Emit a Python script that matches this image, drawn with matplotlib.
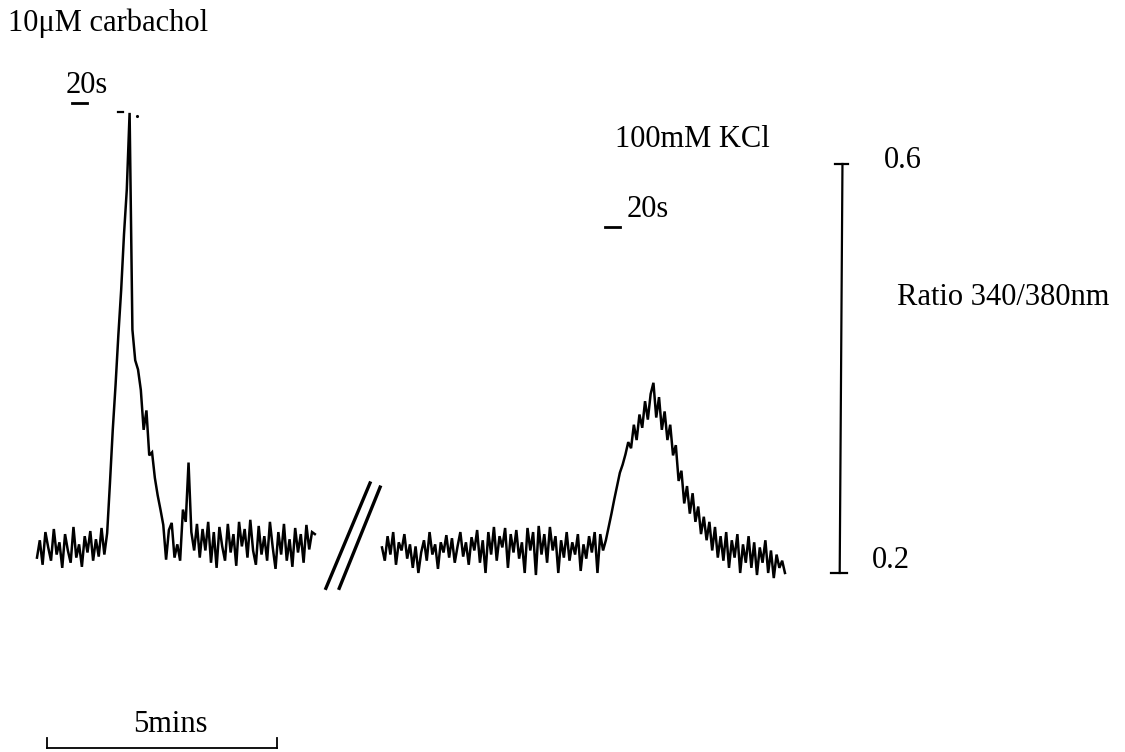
import numpy as np
import matplotlib
matplotlib.use("Agg")
import matplotlib.pyplot as plt

plt.rcParams['font.family'] = ['Liberation Serif', 'DejaVu Serif']

# ---------------- data (time in minutes, fura-2 ratio 340/380) ----------------
# Trace 1: response to 10 uM carbachol
carb_t_start, carb_t_end = 0.0, 6.04
carb_ratio = [
    # baseline
    0.215, 0.232, 0.208, 0.240, 0.225, 0.212, 0.243, 0.218, 0.230, 0.205, 0.238, 0.222,
    0.210, 0.245, 0.215, 0.228, 0.206, 0.236, 0.220, 0.241, 0.212, 0.233, 0.216, 0.244,
    # rise
    0.218, 0.239, 0.288, 0.340, 0.384, 0.433, 0.477, 0.531, 0.575, 0.650,
    # decay
    0.438, 0.408, 0.399, 0.379, 0.340, 0.359, 0.315, 0.318, 0.293, 0.276, 0.262, 0.247,
    0.213, 0.242,
    # baseline after
    0.249, 0.215, 0.228, 0.212, 0.262, 0.250, 0.308, 0.240, 0.222, 0.248, 0.215, 0.243,
    0.222, 0.250, 0.210, 0.240, 0.205, 0.245, 0.226, 0.212, 0.248, 0.220, 0.238, 0.207,
    0.250, 0.226, 0.243, 0.215, 0.252, 0.222, 0.208, 0.246, 0.218, 0.236, 0.212, 0.250,
    0.225, 0.204, 0.240, 0.218, 0.248, 0.212, 0.233, 0.206, 0.244, 0.220, 0.238, 0.210,
    0.247, 0.223, 0.240, 0.238,
]

# Trace 2: response to 100 mM KCl (after a time break)
kcl_t_start, kcl_t_end = 7.50, 16.26
kcl_ratio = [
    # baseline
    0.225, 0.212, 0.236, 0.218, 0.240, 0.208, 0.230, 0.222, 0.238, 0.214, 0.228, 0.205,
    0.226, 0.200, 0.220, 0.232, 0.212, 0.240, 0.218, 0.228, 0.204, 0.230, 0.220, 0.237,
    0.215, 0.234, 0.210, 0.226, 0.240, 0.216, 0.230, 0.208, 0.235, 0.222, 0.242, 0.210,
    0.232, 0.200, 0.240, 0.218, 0.245, 0.212, 0.236, 0.225, 0.244, 0.205, 0.238, 0.220,
    0.242, 0.214, 0.230, 0.200, 0.244, 0.222, 0.240, 0.198, 0.246, 0.218, 0.238, 0.210,
    0.245, 0.222, 0.236, 0.200, 0.232, 0.215, 0.240, 0.212, 0.230, 0.218, 0.238, 0.202,
    0.228, 0.214, 0.236, 0.220, 0.240, 0.200, 0.238, 0.222,
    # rise
    0.232, 0.245, 0.258, 0.272, 0.285, 0.298, 0.306, 0.316, 0.328, 0.322,
    # peak
    0.345, 0.330, 0.355, 0.342, 0.368, 0.350, 0.375, 0.386,
    # decay
    0.352, 0.372, 0.340, 0.358, 0.330, 0.345, 0.315, 0.325, 0.290, 0.300, 0.268,
    0.285, 0.258, 0.278, 0.250, 0.265, 0.238, 0.255, 0.232, 0.250, 0.222, 0.245, 0.215,
    0.236,
    # late baseline
    0.212, 0.240, 0.205, 0.232, 0.215, 0.238, 0.200, 0.228, 0.210, 0.236, 0.205, 0.230,
    0.198, 0.225, 0.210, 0.232, 0.200, 0.222, 0.195, 0.218, 0.205, 0.212, 0.200,
]

# application bars (20 s = 1/3 min)
carb_bar = (0.76, 0.76 + 20 / 60, 0.660)
kcl_bar = (12.35, 12.35 + 20 / 60, 0.538)

# scale bars
time_bar = (0.22, 5.22, 0.0285)       # 5 min
ratio_bar = (17.48, 0.2, 0.6)         # ratio 0.2 - 0.6

# axis break marks (time, ratio endpoints)
break1 = ([6.28, 7.24], [0.185, 0.288])
break2 = ([6.57, 7.46], [0.185, 0.284])

# ---------------- figure ----------------
W, H = 1125, 752
fig = plt.figure(figsize=(W / 100, H / 100), dpi=100)
ax = fig.add_axes([0, 0, 1, 1])
ax.set_xlim(-0.804, 23.652)
ax.set_ylim(0.0249, 0.7604)
ax.axis('off')

lw = 1.8
t1 = np.linspace(carb_t_start, carb_t_end, len(carb_ratio))
t2 = np.linspace(kcl_t_start, kcl_t_end, len(kcl_ratio))
ax.plot(t1, carb_ratio, color='black', lw=lw, solid_joinstyle='miter')
ax.plot(t2, kcl_ratio, color='black', lw=lw, solid_joinstyle='miter')

# break marks
ax.plot(*break1, color='black', lw=2.4)
ax.plot(*break2, color='black', lw=2.4)

# stimulus bars
ax.plot(carb_bar[:2], [carb_bar[2]] * 2, color='black', lw=2)
ax.plot(kcl_bar[:2], [kcl_bar[2]] * 2, color='black', lw=2)
# small marks at the top of the carbachol peak
ax.plot([1.76, 1.86], [0.651, 0.651], color='black', lw=1.6)
ax.plot([2.17], [0.647], marker='.', color='black', ms=2.5)

# time scale bar with end ticks
x0, x1, yb = time_bar
ax.plot([x0, x1], [yb, yb], color='black', lw=1.3)
ax.plot([x0, x0], [yb, yb + 0.010], color='black', lw=1.3)
ax.plot([x1, x1], [yb, yb + 0.010], color='black', lw=1.3)

# ratio scale bar with end ticks
xr, r0, r1 = ratio_bar
ax.plot([xr + 0.03, xr - 0.03], [r1, r0], color='black', lw=1.6)
ax.plot([xr - 0.13, xr + 0.15], [r1, r1], color='black', lw=1.6)
ax.plot([xr - 0.22, xr + 0.12], [r0, r0], color='black', lw=1.6)


def label(px, py, s, size=22):
    fig.text(px / W, 1 - py / H, s, fontsize=size, ha='left', va='baseline')


label(8, 31, '10μM carbachol')
label(66, 93, '20s')
label(615, 147, '100mM KCl')
label(627, 217, '20s')
label(884, 168, '0.6')
label(872, 568, '0.2')
label(897, 305, 'Ratio 340/380nm')
label(133, 732, '5mins')

fig.savefig('out.png', dpi=100, facecolor='white')
